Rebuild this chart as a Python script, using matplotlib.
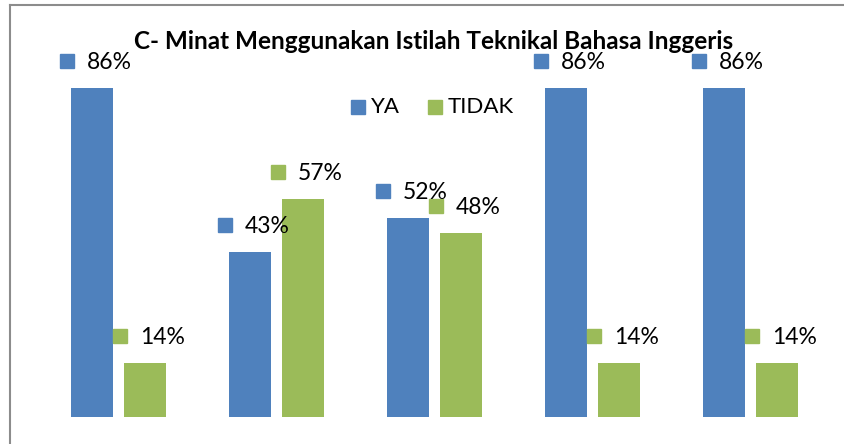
import matplotlib
matplotlib.use("Agg")
import matplotlib.pyplot as plt
import matplotlib.transforms as mtransforms
from matplotlib.lines import Line2D
import numpy as np

plt.rcParams['font.family'] = ['Lato', 'DejaVu Sans']

categories = ["1", "2", "3", "4", "5"]
series_names = ["YA", "TIDAK"]
ya_values = [0.86, 0.43, 0.52, 0.86, 0.86]
tidak_values = [0.14, 0.57, 0.48, 0.14, 0.14]
title = "C- Minat Menggunakan Istilah Teknikal Bahasa Inggeris"

colors = ["#4F81BD", "#9BBB59"]

W, H = 844, 444
fig = plt.figure(figsize=(W / 100, H / 100), dpi=100)
ax = fig.add_axes([39.5 / W, (H - 417) / H, 790 / W, 383 / H])

x = np.arange(len(categories))
bw = 42 / 158
gap = 11 / 158
offs = [-(bw + gap) / 2, (bw + gap) / 2]

for vals, off, col, name in zip([ya_values, tidak_values], offs, colors, series_names):
    ax.bar(x + off, vals, width=bw, color=col, edgecolor='none', label=name)
    for xi, v in zip(x + off, vals):
        tr_sq = mtransforms.offset_copy(ax.transData, fig=fig, x=-25 * 0.72, y=27 * 0.72, units='points')
        ax.plot([xi], [v], marker='s', markersize=14 * 0.72, color=col, linestyle='none',
                transform=tr_sq, clip_on=False)
        tr_tx = mtransforms.offset_copy(ax.transData, fig=fig, x=-5 * 0.72, y=25.5 * 0.72, units='points')
        ax.text(xi, v, f"{round(v * 100)}%", transform=tr_tx, ha='left', va='center',
                fontsize=16.5, color='black', clip_on=False)

ax.set_xlim(-0.5, len(categories) - 0.5)
ax.set_ylim(0, 1)
ax.axis('off')

fig.text(434 / W, 1 - 41 / H, title, ha='center', va='center', fontsize=17.5,
         fontweight='bold', color='black')

# legend
ly = 1 - 107 / H
fig.patches.append(plt.Rectangle((351 / W, 1 - 114 / H), 14 / W, 14 / H, color=colors[0],
                                 transform=fig.transFigure, figure=fig))
fig.text(371 / W, ly, "YA", ha='left', va='center', fontsize=16, color='black')
fig.patches.append(plt.Rectangle((428 / W, 1 - 114 / H), 14 / W, 14 / H, color=colors[1],
                                 transform=fig.transFigure, figure=fig))
fig.text(448 / W, ly, "TIDAK", ha='left', va='center', fontsize=16, color='black')

# border
fig.add_artist(Line2D([10 / W, 10 / W], [0, 1 - 5 / H], color='#8C8C8C', linewidth=1.5,
                      transform=fig.transFigure))
fig.add_artist(Line2D([10 / W, 1.01], [1 - 5 / H, 1 - 5 / H], color='#8C8C8C', linewidth=1.5,
                      transform=fig.transFigure))

fig.savefig("out.png", dpi=100)
